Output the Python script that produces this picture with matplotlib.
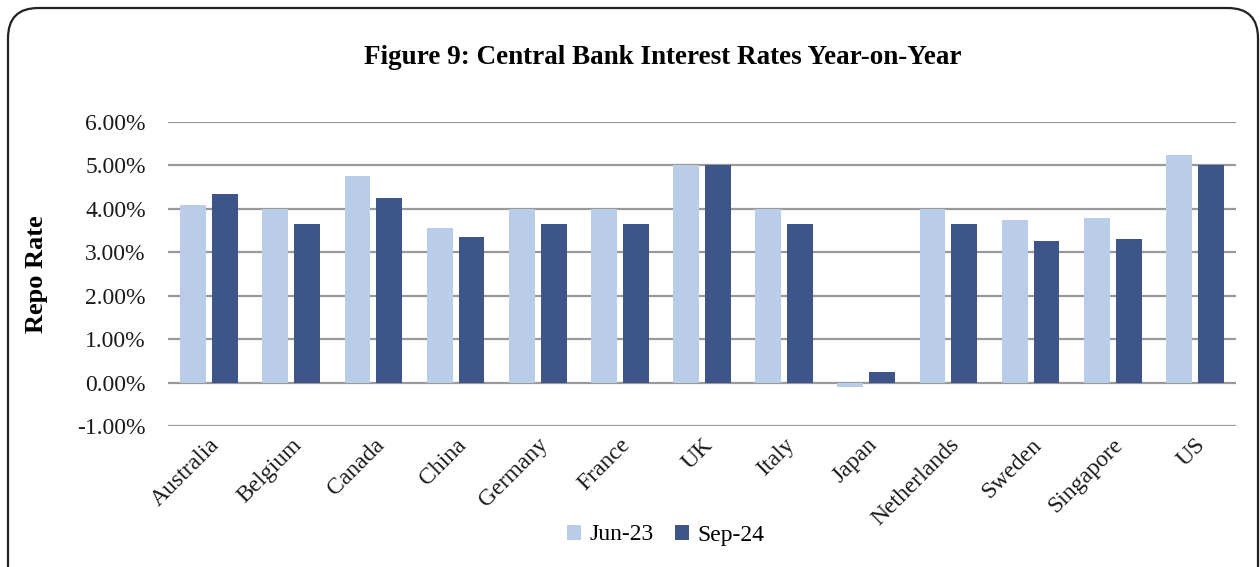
import matplotlib
matplotlib.use("Agg")
import matplotlib.pyplot as plt
import numpy as np
from matplotlib.patches import FancyBboxPatch
from matplotlib.ticker import FuncFormatter

countries = ["Australia", "Belgium", "Canada", "China", "Germany", "France", "UK",
             "Italy", "Japan", "Netherlands", "Sweden", "Singapore", "US"]
jun23 = [4.10, 4.00, 4.75, 3.55, 4.00, 4.00, 5.00, 4.00, -0.10, 4.00, 3.75, 3.80, 5.25]
sep24 = [4.35, 3.65, 4.25, 3.35, 3.65, 3.65, 5.00, 3.65, 0.25, 3.65, 3.25, 3.30, 5.00]
series_names = ["Jun-23", "Sep-24"]
title = "Figure 9: Central Bank Interest Rates Year-on-Year"
yticks = [-1, 0, 1, 2, 3, 4, 5, 6]

light = "#B9CDE9"
dark = "#3D5588"

plt.rcParams['font.family'] = ['Liberation Serif', 'DejaVu Serif']

W, H = 1260, 567
fig = plt.figure(figsize=(W/100, H/100), dpi=100)

# rounded frame (bottom runs past the image edge)
fx0, fx1 = 8/W, 1258/W
fy0, fy1 = -0.3, 1 - 8/H
frame = FancyBboxPatch((fx0, fy0), fx1 - fx0, fy1 - fy0,
                       boxstyle="round,pad=0,rounding_size=0.024",
                       transform=fig.transFigure, fill=False, edgecolor="#222222",
                       linewidth=1.6, mutation_aspect=W/H)
fig.patches.append(frame)

left, right = 168/W, 1236/W
top, bottom = 1 - 122/H, 1 - 426/H
ax = fig.add_axes([left, bottom, right-left, top-bottom])

x = np.arange(len(countries))
bw = 0.315
off = 0.194
ax.bar(x - off, jun23, bw, color=light, label=series_names[0], zorder=3)
ax.bar(x + off, sep24, bw, color=dark, label=series_names[1], zorder=3)

ax.set_xlim(-0.5, len(countries) - 0.5)
ax.set_ylim(-1, 6)
ax.set_yticks(yticks)
ax.yaxis.set_major_formatter(FuncFormatter(lambda v, p: f"{v:.2f}%"))
ax.grid(axis='y', color="#999999", linewidth=1.6, zorder=0)
for s in ax.spines.values():
    s.set_visible(False)
ax.tick_params(axis='both', length=0, labelsize=17, colors="#1a1a1a")
ax.tick_params(axis='y', pad=16)
ax.set_xticks(x)
ax.set_xticklabels(countries, rotation=45, ha='right', rotation_mode='anchor', fontsize=17)
ax.tick_params(axis='x', pad=6)

ax.set_ylabel("Repo Rate", fontsize=19, fontweight='bold')
ax.yaxis.set_label_coords((36 - 168) / (1236 - 168), 0.5)
ax.yaxis.label.set_va('center')

fig.text(663/W, 1 - 58/H, title, ha='center', va='center', fontsize=19.5, fontweight='bold')

leg = fig.legend(loc='center', bbox_to_anchor=(666/W, 1 - 535/H), ncol=2, frameon=False,
                 fontsize=17, handlelength=0.6, handleheight=0.6, handletextpad=0.35,
                 columnspacing=0.9)

fig.savefig("out.png", dpi=100)
